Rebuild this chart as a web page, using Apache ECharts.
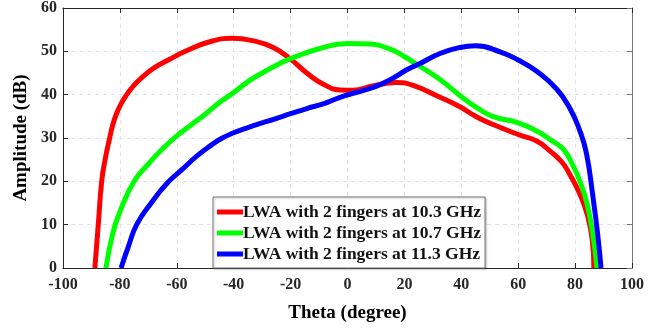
<!DOCTYPE html>
<html><head><meta charset="utf-8">
<script src="https://cdn.jsdelivr.net/npm/echarts@6/dist/echarts.min.js"></script>
<style>html,body{margin:0;padding:0;background:#fff}#c{width:670px;height:328px}</style>
</head><body><div id="c"></div>
<script>
const seriesNames = ['LWA with 2 fingers at 10.3 GHz','LWA with 2 fingers at 10.7 GHz','LWA with 2 fingers at 11.3 GHz'];
const theta103 = [-88.8,-88.2,-87.6,-86.4,-85.2,-83.6,-82.6,-81.2,-79.5,-77.6,-75,-71.8,-68,-63,-57,-49,-40.5,-33,-26.1,-20,-14.3,-8.5,-2.6,2,8.8,17,22.8,32.5,39.5,45.3,51.2,60,66.5,71.5,75.4,78.2,81.7,84.2,86,86.6];
const amp103   = [0,5,10,20,25,30,32.8,35.6,38,40,42.2,44.2,46.2,48,50,52.1,53,52.4,50.9,48.2,45,42.4,41.1,41,42,42.8,42.2,39.4,37.2,34.9,33.1,30.8,29.3,26.8,24.4,21.5,17,12.5,6.7,0];
const theta107 = [-84.9,-82.5,-80,-75,-70,-65,-60,-55,-50,-45,-40,-35,-30,-25,-20,-10,0,8,15,20,25.5,32.5,39.5,45,51,60,66.5,72,76,79.5,81.7,84.2,86.3,87.7];
const amp107   = [0,8,13,20,24,27.5,30.5,33,35.5,38.2,40.5,43,45,46.8,48.3,50.6,51.8,51.7,50.5,48.8,46.5,43.5,39.8,37.2,35,33.5,31.6,29.3,27.3,23.3,20,14.8,7.4,0];
const theta113 = [-79.6,-77,-74.1,-69,-63.5,-58,-53,-48,-44,-40,-35,-30,-26,-20,-14.3,-8,-2.6,3,8.8,13,17,21,25.5,32.5,39.5,45,53.6,60,66.5,73.5,78.2,81.7,84,86.3,88,89.1];
const amp113   = [0,5,10,15,19.5,22.8,25.8,28.3,30,31.2,32.4,33.5,34.3,35.6,36.8,38,39.4,40.5,41.6,42.8,44.2,45.8,47.2,49.5,50.9,51.3,49.9,48,45.4,41.3,36.8,31.6,26.4,16.3,7.4,0];
const xTicks = [-100,-80,-60,-40,-20,0,20,40,60,80,100];
const yTicks = [0,10,20,30,40,50,60];
const colors = ['#ff0000','#00ff00','#0000ff'];

const zip = (a,b)=>a.map((v,i)=>[v,b[i]]);
const dataSets = [zip(theta103,amp103), zip(theta107,amp107), zip(theta113,amp113)];
const font = '"Liberation Serif","Times New Roman",serif';
const axisCol = '#262626';

const chart = echarts.init(document.getElementById('c'), null, {renderer:'canvas'});
const baseX = {type:'value', min:xTicks[0], max:xTicks[xTicks.length-1], interval:20};
const baseY = {type:'value', min:yTicks[0], max:yTicks[yTicks.length-1], interval:10};
chart.setOption({
  animation:false,
  grid:{left:63, right:38, top:4.5, bottom:55, containLabel:false},
  xAxis:[
    Object.assign({}, baseX, {
      position:'bottom',
      name:'Theta (degree)', nameLocation:'middle', nameGap:36,
      nameTextStyle:{fontFamily:font, fontWeight:'bold', fontSize:19, color:'#000'},
      axisLine:{show:true, onZero:false, lineStyle:{color:axisCol, width:1}},
      axisTick:{show:true, inside:true, length:5, lineStyle:{color:axisCol}},
      axisLabel:{fontFamily:font, fontWeight:'bold', fontSize:16, color:axisCol, margin:9},
      splitLine:{show:true, lineStyle:{color:'#e3e3e3', type:[4,4], width:1}}
    }),
    Object.assign({}, baseX, {
      position:'top',
      axisLine:{show:true, onZero:false, lineStyle:{color:axisCol, width:1}},
      axisTick:{show:true, inside:true, length:5, lineStyle:{color:axisCol}},
      axisLabel:{show:false}, splitLine:{show:false}
    })
  ],
  yAxis:[
    Object.assign({}, baseY, {
      position:'left',
      name:'Amplitude (dB)', nameLocation:'middle', nameGap:30,
      nameTextStyle:{fontFamily:font, fontWeight:'bold', fontSize:19, color:'#000'},
      axisLine:{show:true, onZero:false, lineStyle:{color:axisCol, width:1}},
      axisTick:{show:true, inside:true, length:5, lineStyle:{color:axisCol}},
      axisLabel:{fontFamily:font, fontWeight:'bold', fontSize:16, color:axisCol, margin:6},
      splitLine:{show:true, lineStyle:{color:'#e3e3e3', type:[4,4], width:1}}
    }),
    Object.assign({}, baseY, {
      position:'right',
      axisLine:{show:true, onZero:false, lineStyle:{color:'#777', width:1}},
      axisTick:{show:true, inside:true, length:5, lineStyle:{color:'#777'}},
      axisLabel:{show:false}, splitLine:{show:false}
    })
  ],
  legend:{
    orient:'vertical', left:213, top:197,
    data:seriesNames,
    icon:'rect', itemWidth:26, itemHeight:5, itemGap:3,
    padding:[6,4,5,4],
    backgroundColor:'#fff', borderColor:'#777', borderWidth:1,
    shadowColor:'rgba(0,0,0,0.25)', shadowBlur:2, shadowOffsetX:1, shadowOffsetY:1,
    textStyle:{fontFamily:font, fontWeight:'bold', fontSize:17.5, lineHeight:17, color:'#111', padding:[0,0,0,-5]}
  },
  series: seriesNames.map((n,i)=>({
    name:n, type:'line', xAxisIndex:0, yAxisIndex:0,
    data:dataSets[i], smooth:0.5, showSymbol:false, symbol:'none',
    lineStyle:{color:colors[i], width:5}, itemStyle:{color:colors[i]}, clip:true, z:2+i
  }))
});
</script></body></html>
